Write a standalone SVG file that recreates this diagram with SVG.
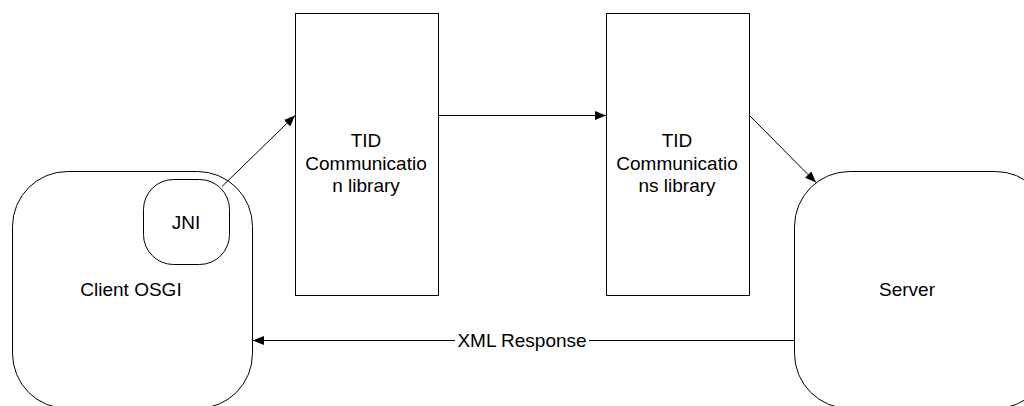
<svg xmlns="http://www.w3.org/2000/svg" width="1024" height="406" viewBox="0 0 1024 406">
<defs>
<style>
.shape{fill:#fff;stroke:#000;stroke-width:1}
.lbl{font-family:"Liberation Sans",Arial,sans-serif;font-size:19px;fill:#000;text-anchor:middle}
.conn{fill:none;stroke:#000;stroke-width:1}
</style>
<marker id="arr" viewBox="0 0 11 9" refX="11" refY="4.5" markerWidth="11" markerHeight="9" markerUnits="userSpaceOnUse" orient="auto">
<path d="M0,0 L11,4.5 L0,9 Z" fill="#000"/>
</marker>
</defs>
<rect width="1024" height="406" fill="#fff"/>
<g id="client">
<rect class="shape" x="12.5" y="171.5" width="240" height="237" rx="55" ry="55"/>
<text class="lbl" x="131" y="296">Client OSGI</text>
</g>
<g id="jni">
<rect class="shape" x="143.5" y="179.5" width="86" height="85" rx="30" ry="30"/>
<text class="lbl" x="186" y="229">JNI</text>
</g>
<g id="tid1">
<rect class="shape" x="295.5" y="13.5" width="143" height="282"/>
<text class="lbl" x="366" y="147">TID</text>
<text class="lbl" x="366" y="169.5">Communicatio</text>
<text class="lbl" x="366" y="192">n library</text>
</g>
<g id="tid2">
<rect class="shape" x="606.5" y="13.5" width="143" height="282"/>
<text class="lbl" x="677" y="147">TID</text>
<text class="lbl" x="677" y="169.5">Communicatio</text>
<text class="lbl" x="677" y="192">ns library</text>
</g>
<g id="server">
<rect class="shape" x="794.5" y="171.5" width="256" height="237" rx="55" ry="55"/>
<text class="lbl" x="907" y="296">Server</text>
</g>
<g id="connectors">
<path class="conn" d="M222,186.5 L295,115.5" marker-end="url(#arr)"/>
<path class="conn" d="M438.5,115.5 L606,115.5" marker-end="url(#arr)"/>
<path class="conn" d="M749.5,115.5 L816,182.5" marker-end="url(#arr)"/>
<path class="conn" d="M794.5,340.5 L253,340.5" marker-end="url(#arr)"/>
<rect x="455" y="331" width="134" height="18" fill="#fff"/>
<text class="lbl" x="522" y="347">XML Response</text>
</g>
</svg>
